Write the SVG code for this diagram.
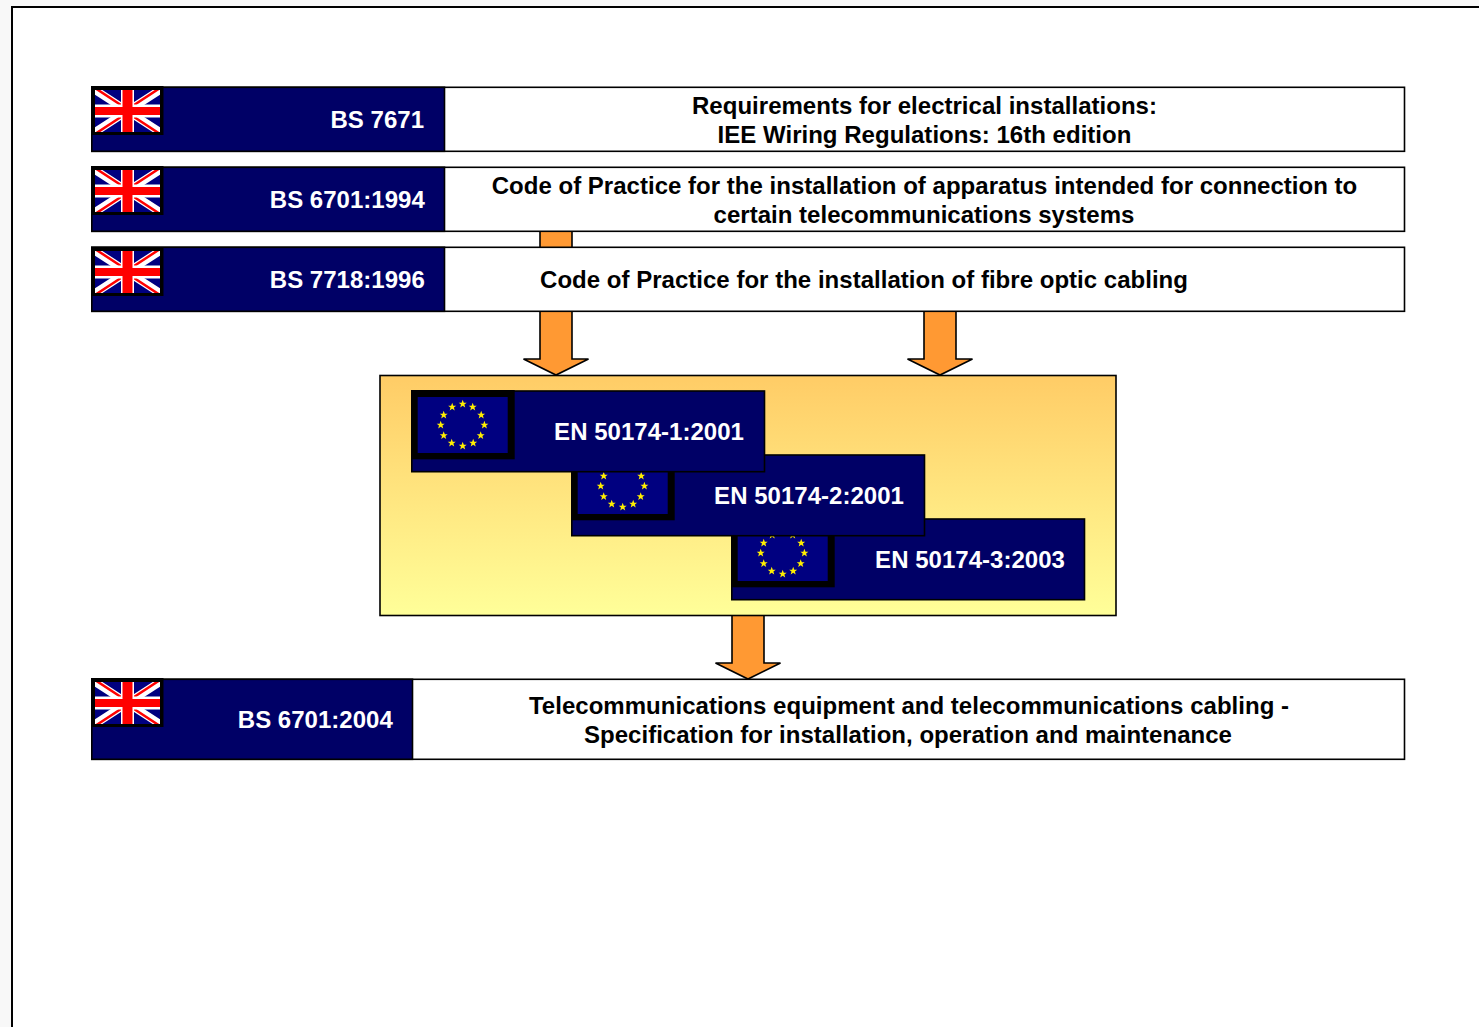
<svg xmlns="http://www.w3.org/2000/svg" width="1479" height="1027" viewBox="0 0 1479 1027">
<style>
text{font-family:"Liberation Sans",Arial,sans-serif;font-weight:bold;font-size:24px;text-anchor:middle;letter-spacing:.02px}
.w{fill:#fff}.k{fill:#000}
.box{fill:#fff;stroke:#000;stroke-width:1.6}
.navy{fill:#000066;stroke:#000;stroke-width:1.6}
.arrow{fill:#ff9933;stroke:#000;stroke-width:1.6;stroke-linejoin:miter}
</style>
<defs>
<linearGradient id="gold" x1="0" y1="0" x2="0" y2="1"><stop offset="0" stop-color="#ffcc66"/><stop offset="1" stop-color="#ffff99"/></linearGradient>
<clipPath id="ukc"><rect x="4" y="4" width="65" height="42"/></clipPath>
<g id="uk">
<rect x="0" y="0" width="72.500" height="49" fill="#000"/>
<g clip-path="url(#ukc)">
<rect x="4" y="4" width="65" height="42" fill="#000080"/>
<path d="M4 4L69 46M69 4L4 46" stroke="#fff" stroke-width="8"/>
<path d="M4 2L36 23M69 48L37 27M69 2L37 23M4 48L36 27" stroke="#ff0000" stroke-width="2.500"/>
<path d="M36.500 4V46M4 25H69" stroke="#fff" stroke-width="13"/>
<path d="M36.500 4V46" stroke="#ff0000" stroke-width="10"/>
<path d="M4 25H69" stroke="#ff0000" stroke-width="8"/>
</g>
</g>
<polygon id="star" points="0,-4.200 1.100,-1.300 4,-1.300 1.700,.6 2.500,3.400 0,1.700 -2.500,3.400 -1.700,.6 -4,-1.300 -1.100,-1.300" fill="#ffee00"/>
<g id="eu">
<rect x="0" y="0" width="103.700" height="69.300" fill="#000"/>
<rect x="6.700" y="7" width="90" height="56" fill="#000080"/>
<g transform="translate(51.700 35)">
<use href="#star" x="0" y="-21"/><use href="#star" x="10" y="-18"/><use href="#star" x="18.500" y="-10"/><use href="#star" x="21.700" y="0"/><use href="#star" x="18" y="10.500"/><use href="#star" x="10.500" y="18"/><use href="#star" x="0" y="21"/><use href="#star" x="-11" y="18"/><use href="#star" x="-19" y="10.500"/><use href="#star" x="-22" y="0"/><use href="#star" x="-19" y="-10"/><use href="#star" x="-10.500" y="-18"/>
</g>
</g>
</defs>
<rect width="1479" height="1027" fill="#f8f8f8"/>
<rect id="page" x="12" y="7" width="1480" height="1040" fill="#fff" stroke="#000" stroke-width="2"/>
<g id="connectors">
<rect class="arrow" x="540" y="225" width="32" height="30"/>
<path class="arrow" d="M540 305V359H523.500L556 375L588.500 359H572V305Z"/>
<path class="arrow" d="M924 305V359H907.500L940 375L972.500 359H956V305Z"/>
<path class="arrow" d="M732 615V663H715.500L748 679L780.500 663H764V615Z"/>
</g>
<g id="bs7671">
<rect class="box" x="91.800" y="87.300" width="1312.700" height="64"/>
<rect class="navy" x="91.800" y="87.300" width="352.700" height="64"/>
<use href="#uk" x="91" y="86"/>
<text class="w" x="377.300" y="128">BS 7671</text>
<text class="k" x="924.500" y="114">Requirements for electrical installations:</text>
<text class="k" x="924.500" y="143">IEE Wiring Regulations: 16th edition</text>
</g>
<g id="bs6701-1994">
<rect class="box" x="91.800" y="167.300" width="1312.700" height="64"/>
<rect class="navy" x="91.800" y="167.300" width="352.700" height="64"/>
<use href="#uk" x="91" y="166"/>
<text class="w" x="347.300" y="208">BS 6701:1994</text>
<text class="k" x="924.500" y="194">Code of Practice for the installation of apparatus intended for connection to</text>
<text class="k" x="924" y="223">certain telecommunications systems</text>
</g>
<g id="bs7718">
<rect class="box" x="91.800" y="247.300" width="1312.700" height="64"/>
<rect class="navy" x="91.800" y="247.300" width="352.700" height="64"/>
<use href="#uk" x="91" y="247"/>
<text class="w" x="347.300" y="288">BS 7718:1996</text>
<text class="k" x="864" y="288">Code of Practice for the installation of fibre optic cabling</text>
</g>
<rect id="en-panel" x="380" y="375.500" width="736" height="240" fill="url(#gold)" stroke="#000" stroke-width="1.600"/>
<g id="en50174-3">
<rect class="navy" x="731.800" y="519" width="352.700" height="80.700"/>
<use href="#eu" x="731" y="518"/>
<text class="w" x="970" y="568">EN 50174-3:2003</text>
</g>
<g id="en50174-2">
<rect class="navy" x="571.800" y="455" width="352.700" height="80.700"/>
<use href="#eu" x="571" y="451"/>
<text class="w" x="809" y="504">EN 50174-2:2001</text>
</g>
<g id="en50174-1">
<rect class="navy" x="411.800" y="391" width="352.700" height="80.700"/>
<use href="#eu" x="411" y="390"/>
<text class="w" x="649" y="440">EN 50174-1:2001</text>
</g>
<g id="bs6701-2004">
<rect class="box" x="91.800" y="679.300" width="1312.700" height="80"/>
<rect class="navy" x="91.800" y="679.300" width="320.700" height="80"/>
<use href="#uk" x="91" y="678"/>
<text class="w" x="315.300" y="728">BS 6701:2004</text>
<text class="k" x="909" y="714" style="letter-spacing:.03px">Telecommunications equipment and telecommunications cabling -</text>
<text class="k" x="908" y="743">Specification for installation, operation and maintenance</text>
</g>
</svg>
